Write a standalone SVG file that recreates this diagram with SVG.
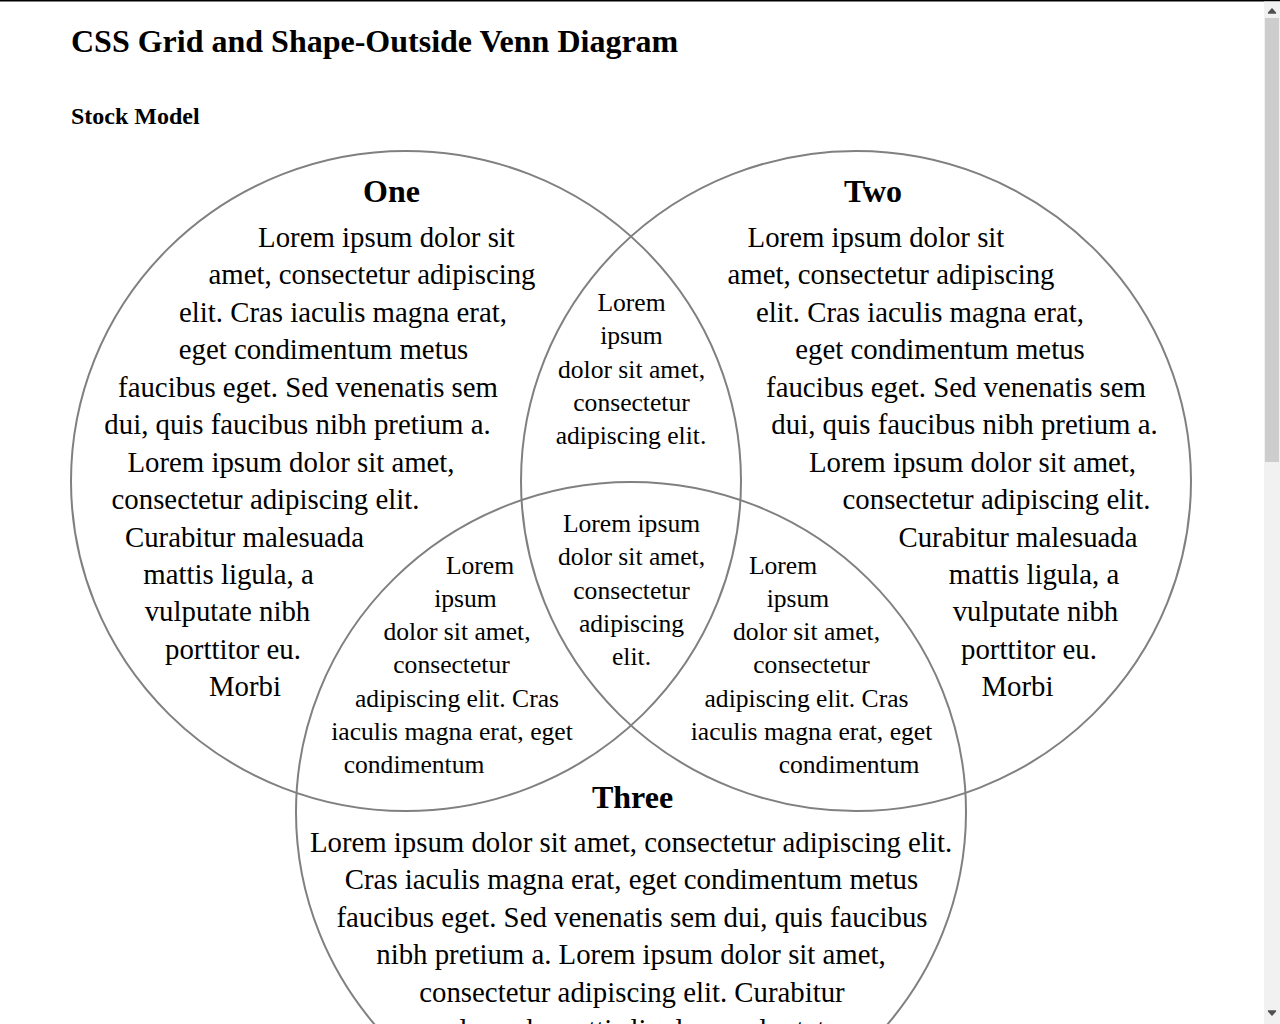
<svg xmlns="http://www.w3.org/2000/svg" width="1280" height="1024" viewBox="0 0 1280 1024">
<style>
  text { font-family: "Liberation Serif", "Times New Roman", serif; fill: #000; }
  .h1 { font-size: 32px; font-weight: bold; }
  .h2 { font-size: 24px; font-weight: bold; }
  .head { font-size: 32px; font-weight: bold; text-anchor: middle; }
  .body { font-size: 28.8px; text-anchor: middle; }
  .small { font-size: 25.6px; text-anchor: middle; }
  .circ { fill: none; stroke: #808080; stroke-width: 2; }
</style>
<rect x="0" y="0" width="1280" height="1024" fill="#fff"/>
<rect x="0" y="0" width="1280" height="1.5" fill="#000"/>
<text class="h1" x="71" y="52">CSS Grid and Shape-Outside Venn Diagram</text>
<text class="h2" x="71" y="124">Stock Model</text>

<g id="connectors"></g>

<g id="circle-one">
  <ellipse class="circ" cx="406" cy="481" rx="335" ry="330"/>
  <text class="head" x="391.5" y="202">One</text>
  <text class="body" x="386.5" y="247">Lorem ipsum dolor sit</text>
  <text class="body" x="372" y="284.4">amet, consectetur adipiscing</text>
  <text class="body" x="343" y="321.8">elit. Cras iaculis magna erat,</text>
  <text class="body" x="323.5" y="359.3">eget condimentum metus</text>
  <text class="body" x="308" y="396.7">faucibus eget. Sed venenatis sem</text>
  <text class="body" x="297.5" y="434.2">dui, quis faucibus nibh pretium a.</text>
  <text class="body" x="291" y="471.6">Lorem ipsum dolor sit amet,</text>
  <text class="body" x="265.5" y="509">consectetur adipiscing elit.</text>
  <text class="body" x="244.5" y="546.5">Curabitur malesuada</text>
  <text class="body" x="228.5" y="584">mattis ligula, a</text>
  <text class="body" x="227.5" y="621.4">vulputate nibh</text>
  <text class="body" x="233" y="658.8">porttitor eu.</text>
  <text class="body" x="245" y="696.2">Morbi</text>
</g>

<g id="circle-two">
  <ellipse class="circ" cx="856" cy="481" rx="335" ry="330"/>
  <text class="head" x="873" y="202">Two</text>
  <text class="body" x="876" y="247">Lorem ipsum dolor sit</text>
  <text class="body" x="891" y="284.4">amet, consectetur adipiscing</text>
  <text class="body" x="920" y="321.8">elit. Cras iaculis magna erat,</text>
  <text class="body" x="940" y="359.3">eget condimentum metus</text>
  <text class="body" x="956" y="396.7">faucibus eget. Sed venenatis sem</text>
  <text class="body" x="964.5" y="434.2">dui, quis faucibus nibh pretium a.</text>
  <text class="body" x="972.5" y="471.6">Lorem ipsum dolor sit amet,</text>
  <text class="body" x="996.5" y="509">consectetur adipiscing elit.</text>
  <text class="body" x="1018" y="546.5">Curabitur malesuada</text>
  <text class="body" x="1034" y="584">mattis ligula, a</text>
  <text class="body" x="1035.5" y="621.4">vulputate nibh</text>
  <text class="body" x="1029" y="658.8">porttitor eu.</text>
  <text class="body" x="1017.5" y="696.2">Morbi</text>
</g>

<g id="circle-three">
  <ellipse class="circ" cx="631" cy="812" rx="335" ry="330"/>
  <text class="head" x="632.5" y="808">Three</text>
  <text class="body" x="631" y="852">Lorem ipsum dolor sit amet, consectetur adipiscing elit.</text>
  <text class="body" x="631.5" y="889.4">Cras iaculis magna erat, eget condimentum metus</text>
  <text class="body" x="632" y="926.8">faucibus eget. Sed venenatis sem dui, quis faucibus</text>
  <text class="body" x="631" y="964.3">nibh pretium a. Lorem ipsum dolor sit amet,</text>
  <text class="body" x="632" y="1001.7">consectetur adipiscing elit. Curabitur</text>
  <text class="body" x="631" y="1039">malesuada mattis ligula, a vulputate</text>
</g>

<g id="overlap-one-two">
  <text class="small" x="631.5" y="311">Lorem</text>
  <text class="small" x="631.5" y="344.3">ipsum</text>
  <text class="small" x="631.5" y="377.6">dolor sit amet,</text>
  <text class="small" x="631.5" y="410.9">consectetur</text>
  <text class="small" x="631" y="444.2">adipiscing elit.</text>
</g>

<g id="overlap-all">
  <text class="small" x="631.5" y="532">Lorem ipsum</text>
  <text class="small" x="631.5" y="565.3">dolor sit amet,</text>
  <text class="small" x="631.5" y="598.6">consectetur</text>
  <text class="small" x="631.5" y="631.9">adipiscing</text>
  <text class="small" x="631.5" y="665.2">elit.</text>
</g>

<g id="overlap-one-three">
  <text class="small" x="480" y="573.5">Lorem</text>
  <text class="small" x="465.5" y="606.8">ipsum</text>
  <text class="small" x="457" y="640.1">dolor sit amet,</text>
  <text class="small" x="451.5" y="673.4">consectetur</text>
  <text class="small" x="457" y="706.7">adipiscing elit. Cras</text>
  <text class="small" x="452" y="740">iaculis magna erat, eget</text>
  <text class="small" x="414" y="773.3">condimentum</text>
</g>

<g id="overlap-two-three">
  <text class="small" x="783" y="573.5">Lorem</text>
  <text class="small" x="798" y="606.8">ipsum</text>
  <text class="small" x="806.5" y="640.1">dolor sit amet,</text>
  <text class="small" x="811.5" y="673.4">consectetur</text>
  <text class="small" x="806.5" y="706.7">adipiscing elit. Cras</text>
  <text class="small" x="811.5" y="740">iaculis magna erat, eget</text>
  <text class="small" x="849" y="773.3">condimentum</text>
</g>

<g id="scrollbar">
  <rect x="1264" y="1.5" width="16" height="1022.5" fill="#f1f1f1"/>
  <rect x="1265" y="18" width="14" height="444" fill="#cdcdcd"/>
  <path d="M1268.5 13 L1272 9 L1275.5 13 Z" fill="#505050" stroke="#505050" stroke-width="1.5" stroke-linejoin="round"/>
  <path d="M1268.5 1011 L1272 1015 L1275.5 1011 Z" fill="#505050" stroke="#505050" stroke-width="1.5" stroke-linejoin="round"/>
</g>
</svg>
